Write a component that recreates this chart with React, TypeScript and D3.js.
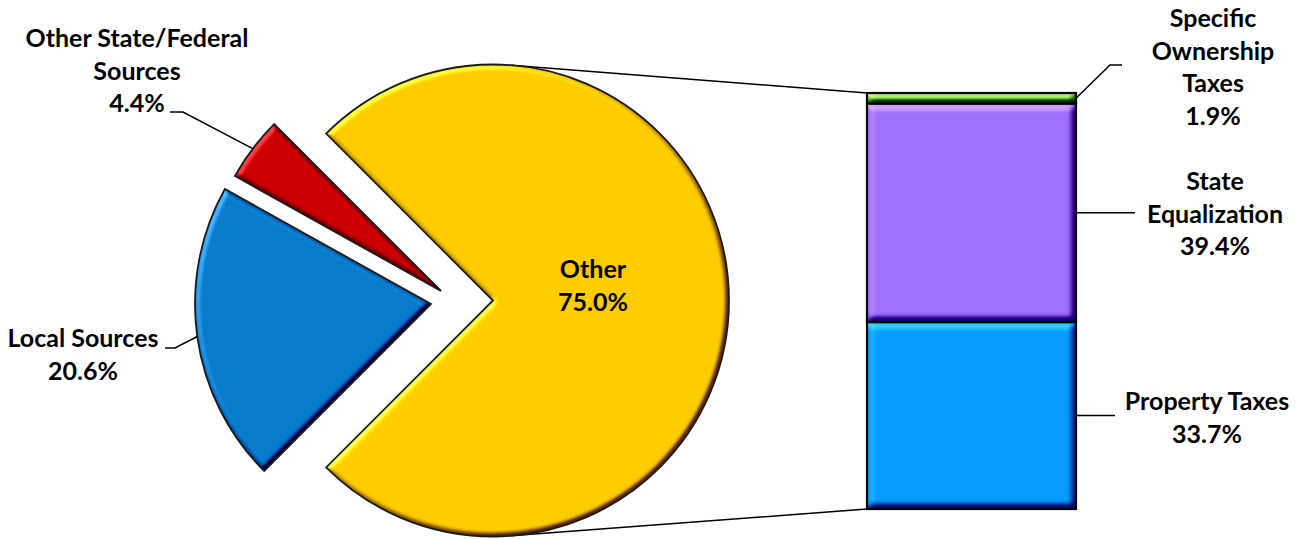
import React from "react";
import * as d3 from "d3";

// ---- data ----
const pieCategories = ["Other", "Local Sources", "Other State/Federal Sources"];
const pieValues = [75.0, 20.6, 4.4];
const pieLabelLines = [["Other"], ["Local Sources"], ["Other State/Federal", "Sources"]];
const pieColors = ["#FFCC00", "#0A7BCC", "#CC0000"];

const barCategories = ["Property Taxes", "State Equalization", "Specific Ownership Taxes"];
const barValues = [33.7, 39.4, 1.9];
const barLabelLines = [["Property Taxes"], ["State", "Equalization"], ["Specific", "Ownership", "Taxes"]];
const barColors = ["#079DFF", "#A070FF", "#80C444"];

// ---- layout ----
const W = 1305;
const H = 539;
const C = { x: 493, y: 300.5 };
const R = 236;
const explode: [number, number][] = [[0, 0], [-62, 3.5], [-52, -9.5]];
const pieLabelPos = [
  { x: 593, y: 278, elbow: null as null | [number, number], end: null as null | [number, number] },
  { x: 83, y: 347, elbow: [175, 348] as [number, number], end: [165, 348] as [number, number] },
  { x: 137, y: 47, elbow: [183, 112] as [number, number], end: [170, 112] as [number, number] },
];
const barX0 = 867;
const barX1 = 1076;
const barLabelPos = [
  { x: 1207, y: 410, pts: [[1115, 0]] },
  { x: 1215, y: 190, pts: [[1135, 0]] },
  { x: 1213, y: 27, pts: [[1110, 65], [1122, 65]] },
];
const lineH = 32.5;
const font = "Lato, 'Liberation Sans', sans-serif";
const fmt = (v: number) => d3.format(".1f")(v) + "%";

function tangent(px: number, py: number, upper: boolean): [number, number] {
  const dx = px - C.x, dy = py - C.y;
  const d = Math.hypot(dx, dy);
  const phi = Math.atan2(dy, dx);
  const a = Math.acos(R / d);
  const t = upper ? phi - a : phi + a;
  return [C.x + R * Math.cos(t), C.y + R * Math.sin(t)];
}

export default function App() {
  const pie = d3
    .pie<number>()
    .sort(null)
    .value((d) => d)
    .startAngle(-Math.PI / 4)
    .endAngle((7 * Math.PI) / 4);
  const arcs = pie(pieValues);
  const arc = d3.arc<d3.PieArcDatum<number>>().innerRadius(0).outerRadius(R);

  const y = d3.scaleLinear().domain([0, d3.sum(barValues)]).range([509, 93]);
  let acc = 0;
  const segs = barValues.map((v, i) => {
    const s = { i, y0: y(acc), y1: y(acc + v), v };
    acc += v;
    return s;
  });

  const topT = tangent(barX0, y(d3.sum(barValues)), true);
  const botT = tangent(barX0, y(0), false);

  const renderText = (lines: string[], x: number, y0: number) => (
    <text x={x} y={y0} textAnchor="middle" fontFamily={font} fontWeight={700} fontSize={25} fill="#000">
      {lines.map((l, k) => (
        <tspan key={k} x={x} y={y0 + k * lineH}>
          {l}
        </tspan>
      ))}
    </text>
  );

  return (
    <svg width={W} height={H} style={{ position: "absolute", left: 0, top: 0, display: "block" }}>
      <defs>
        <filter id="bevelPie" x="-10%" y="-10%" width="120%" height="120%" colorInterpolationFilters="sRGB">
          <feGaussianBlur in="SourceAlpha" stdDeviation="2.5" result="blur" />
          <feDiffuseLighting in="blur" surfaceScale="5" diffuseConstant="1" lightingColor="#ffffff" result="light">
            <feDistantLight azimuth={225} elevation={45} />
          </feDiffuseLighting>
          <feComposite in="SourceGraphic" in2="light" operator="arithmetic" k1={0} k2={1} k3={0.9} k4={-0.636} result="lit" />
          <feComposite in="lit" in2="SourceAlpha" operator="in" />
        </filter>
        <filter id="bevelBar" x="-10%" y="-10%" width="120%" height="120%" colorInterpolationFilters="sRGB">
          <feGaussianBlur in="SourceAlpha" stdDeviation="3.5" result="blur" />
          <feDiffuseLighting in="blur" surfaceScale="7" diffuseConstant="1" lightingColor="#ffffff" result="light">
            <feDistantLight azimuth={240} elevation={45} />
          </feDiffuseLighting>
          <feComposite in="SourceGraphic" in2="light" operator="arithmetic" k1={0} k2={1} k3={0.8} k4={-0.566} result="lit" />
          <feComposite in="lit" in2="SourceAlpha" operator="in" />
        </filter>
      </defs>

      {/* connector lines */}
      <line x1={topT[0]} y1={topT[1]} x2={barX0} y2={y(d3.sum(barValues))} stroke="#000" strokeWidth={1.5} />
      <line x1={botT[0]} y1={botT[1]} x2={barX0} y2={y(0)} stroke="#000" strokeWidth={1.5} />

      {/* pie slices */}
      {arcs.map((a, i) => {
        const [ox, oy] = explode[i];
        const p = arc(a) || "";
        return (
          <g key={pieCategories[i]} transform={`translate(${C.x + ox},${C.y + oy})`}>
            <path d={p} fill={pieColors[i]} filter="url(#bevelPie)" />
            <path d={p} fill="none" stroke="#1a1a1a" strokeWidth={1.8} strokeLinejoin="miter" />
          </g>
        );
      })}

      {/* pie labels and leaders */}
      {arcs.map((a, i) => {
        const pos = pieLabelPos[i];
        const lines = [...pieLabelLines[i], fmt(pieValues[i])];
        let leader = null;
        if (pos.elbow && pos.end) {
          const mid = (a.startAngle + a.endAngle) / 2;
          const [ox, oy] = explode[i];
          const px = C.x + ox + R * Math.sin(mid);
          const py = C.y + oy - R * Math.cos(mid);
          leader = (
            <polyline
              points={`${px},${py} ${pos.elbow[0]},${pos.elbow[1]} ${pos.end[0]},${pos.end[1]}`}
              fill="none"
              stroke="#000"
              strokeWidth={1.5}
            />
          );
        }
        return (
          <g key={"pl" + i}>
            {leader}
            {renderText(lines, pos.x, pos.y)}
          </g>
        );
      })}

      {/* bar segments */}
      {segs.map((s) => (
        <g key={barCategories[s.i]}>
          <rect x={barX0} y={s.y1} width={barX1 - barX0} height={s.y0 - s.y1} fill={barColors[s.i]} filter="url(#bevelBar)" />
          <rect x={barX0} y={s.y1} width={barX1 - barX0} height={s.y0 - s.y1} fill="none" stroke="#000" strokeWidth={2.2} />
        </g>
      ))}

      {/* bar labels */}
      {segs.map((s) => {
        const pos = barLabelPos[s.i];
        const mid = (s.y0 + s.y1) / 2;
        const pts = [[barX1, mid], ...pos.pts.map(([px, py]) => [px, py === 0 ? mid : py])];
        return (
          <g key={"bl" + s.i}>
            <polyline points={pts.map((p) => p.join(",")).join(" ")} fill="none" stroke="#000" strokeWidth={1.5} />
            {renderText([...barLabelLines[s.i], fmt(s.v)], pos.x, pos.y)}
          </g>
        );
      })}
    </svg>
  );
}
